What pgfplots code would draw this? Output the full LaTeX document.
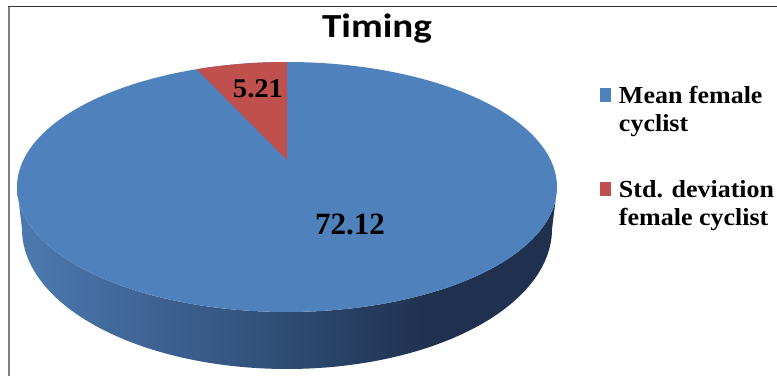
\documentclass[border=0pt]{standalone}
\usepackage{pgfplots}
\pgfplotsset{compat=1.18}
\usepackage{pgfplotstable}
\usepackage{fontspec}
\newfontfamily\titlefont[FakeStretch=1.16]{Carlito}
\newfontfamily\legfont[FakeStretch=1.06]{Liberation Serif}
\newfontfamily\numfont{Liberation Serif}
\definecolor{pieblue}{RGB}{79,129,189}
\definecolor{piered}{RGB}{192,80,77}
\definecolor{sideA}{RGB}{76,122,176}
\definecolor{sideB}{RGB}{54,88,133}
\definecolor{sideC}{RGB}{31,49,78}
\pgfdeclarehorizontalshading{pieside}{100bp}{color(0bp)=(sideA); color(25bp)=(sideA); color(44bp)=(sideB); color(63bp)=(sideC); color(100bp)=(sideC)}

\pgfplotstableread{
label value
Mean 72.12
Std 5.21
}\datatable

\begin{document}
\begin{tikzpicture}
\pgfplotstablegetelem{0}{value}\of\datatable \let\vM\pgfplotsretval
\pgfplotstablegetelem{1}{value}\of\datatable \let\vS\pgfplotsretval
\pgfmathsetmacro{\tot}{\vM+\vS}
\pgfmathsetmacro{\tB}{90+360*\vS/\tot}
\pgfmathsetmacro{\kk}{0.216}
\pgfmathsetmacro{\AA}{270*sqrt(1-\kk*\kk)}
\begin{axis}[
  scale only axis, width=777bp, height=376bp,
  xmin=0, xmax=777, ymin=0, ymax=376,
  hide axis, clip=false,
  declare function={cl(\u)=min(max(\u,0),1); RR(\u)=and(\u>-0.001,\u<1.001); TT(\u)=90+(\tB-90)*cl(\u);},
  legend style={at={(600/777,289.8/376)}, anchor=north west, draw=none, fill=none,
    inner sep=0pt, outer sep=0pt, row sep=48bp, column sep=8bp,
    cells={anchor=north west, align=left}, nodes={inner sep=0pt},
    font=\legfont\bfseries\fontsize{24.5bp}{28bp}\selectfont},
  legend image code/.code={\fill[#1] (0bp,-1.5bp) rectangle (11bp,-15.5bp);},
]
% side wall (bottom ellipse lower half, then top ellipse lower half back)
\addplot[forget plot, draw=none, shading=pieside, shade, domain=0:2, samples=401, variable=\u]
 ({287+(\u<=1 ? 265 : 270)*cos(\u<=1 ? 180+180*\u : 540-180*\u)},
  {(\u<=1 ? 147 : 189)+(\u<=1 ? 140 : 125)*sin(\u<=1 ? 180+180*\u : 540-180*\u)});
% top face (mean)
\addplot[fill=pieblue, draw=none, domain=0:360, samples=240] ({287+270*cos(x)},{189+125*sin(x)});
\addlegendentry{Mean female\\cyclist}
% std slice
\addplot[fill=piered, draw=none, samples at={-1,0,0.01,...,1,2}, variable=\u]
 ({287+\AA*RR(\u)*cos(TT(\u))/(1+\kk*RR(\u)*sin(TT(\u)))},
  {189+125*(RR(\u)*sin(TT(\u))+\kk)/(1+\kk*RR(\u)*sin(TT(\u)))});
\addlegendentry{Std. deviation\\female cyclist}

\node[anchor=base, inner sep=0pt] at (axis cs:377,338) {\titlefont\bfseries\fontsize{33.7bp}{40bp}\selectfont Timing};
\node[anchor=base, inner sep=0pt] at (axis cs:258,278) {\legfont\bfseries\fontsize{27bp}{30bp}\selectfont 5.21};
\node[anchor=base, inner sep=0pt] at (axis cs:350,141) {\numfont\bfseries\fontsize{31bp}{36bp}\selectfont 72.12};

\draw[color=black!50, line width=2bp] (axis cs:9,0) -- (axis cs:9,369.5);
\draw[color=black!80, line width=1.4bp] (axis cs:8,369.3) -- (axis cs:777,369.3);
\end{axis}
\pgfresetboundingbox
\useasboundingbox (0,0) rectangle (777bp,376bp);
\end{tikzpicture}
\end{document}
